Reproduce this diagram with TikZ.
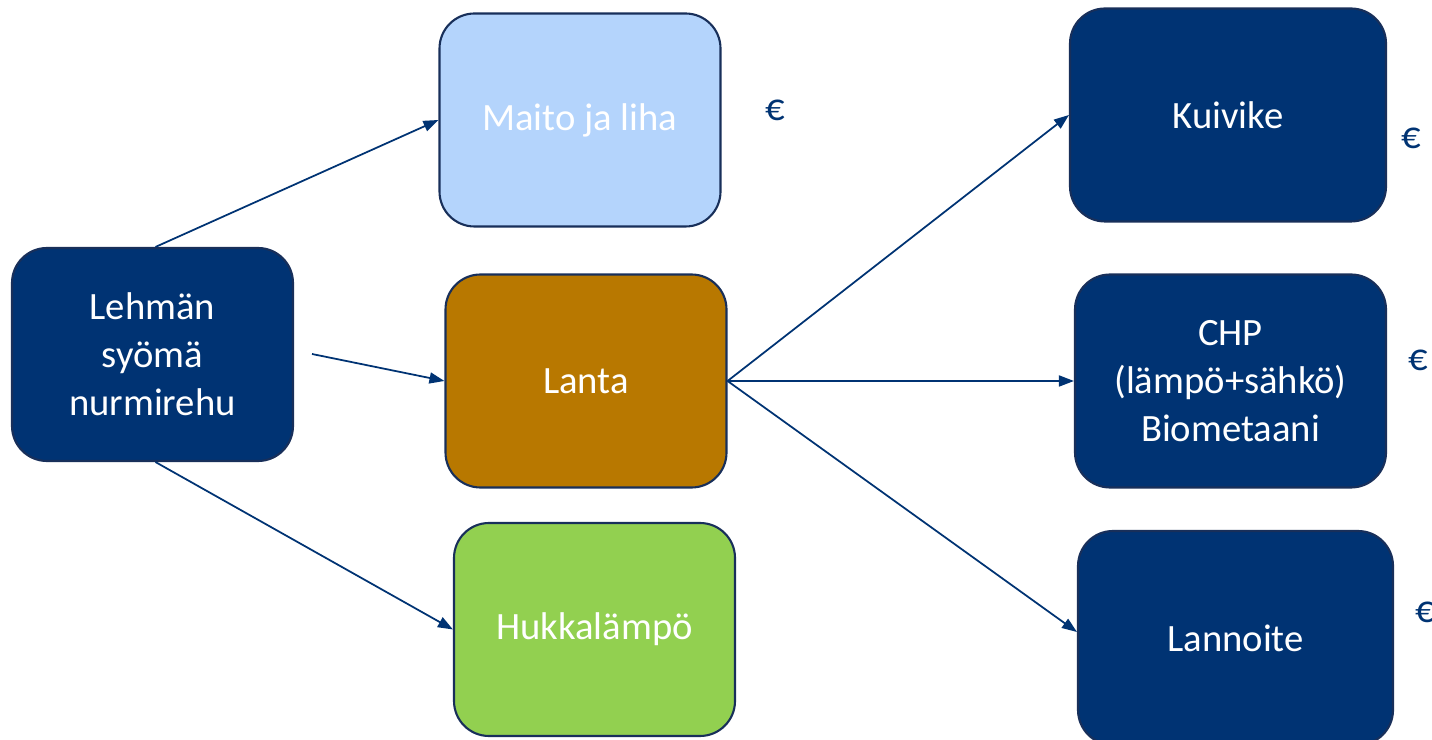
\documentclass[tikz,border=0pt]{standalone}
\usepackage{fontspec}
\setmainfont{Carlito}
\usetikzlibrary{arrows.meta}

\definecolor{navy}{RGB}{0,51,115}
\definecolor{navyline}{RGB}{24,47,90}
\definecolor{sky}{RGB}{180,212,252}
\definecolor{manure}{RGB}{184,120,0}
\definecolor{grass}{RGB}{146,208,80}

\tikzset{
    box/.style={draw=navyline, line width=0.6pt, rounded corners=0.35cm,
        minimum width=2.81cm, minimum height=2.13cm, inner sep=0pt,
        align=center, text=white, font=\fontsize{11}{13.6}\selectfont},
    flow/.style={draw=navy, line width=0.5pt,
        -{Triangle[length=1.5mm,width=1.1mm]}},
    euro/.style={text=navy, font=\fontsize{11}{13.6}\selectfont}
}

\begin{document}
\begin{tikzpicture}

    % Fix the size of the page
    \useasboundingbox (0,0) rectangle (14.32,7.39);

    % Starting box on the left
    \node[box, fill=navy] (lehma) at (1.525, 3.845) {Lehmän\\syömä\\nurmirehu};

    % Middle column
    \node[box, fill=sky] (maito) at (5.80, 6.19) {Maito ja liha};
    \node[box, fill=manure] (lanta) at (5.86, 3.58) {Lanta};
    \node[box, fill=grass] (hukka) at (5.945, 1.095) {Hukkalämpö};

    % Right column
    \node[box, fill=navy, minimum width=3.16cm] (kuivike) at (12.28, 6.24) {Kuivike};
    \node[box, fill=navy, minimum width=3.11cm] (chp) at (12.305, 3.58) {CHP\\(lämpö+sähkö)\\Biometaani};
    \node[box, fill=navy, minimum width=3.15cm, minimum height=2.14cm] (lannoite) at (12.355, 1.01) {Lannoite};

    % Euro signs beside the boxes
    \node[euro] (e1) at (7.75, 6.29) {€};
    \node[euro] (e2) at (14.11, 6.01) {€};
    \node[euro] (e3) at (14.18, 3.79) {€};
    \node[euro] (e4) at (14.25, 1.27) {€};

    % Free start of the arrow to Lanta
    \coordinate (lstart) at (3.12, 3.85);

    % Arrows from the cow
    \draw[flow] ([xshift=0.03cm]lehma.north) -- (maito.west);
    \draw[flow] (lstart) -- (lanta.west);
    \draw[flow] ([xshift=0.03cm]lehma.south) -- (hukka.west);

    % Arrows from the manure
    \draw[flow] (lanta.east) -- (kuivike.west);
    \draw[flow] (lanta.east) -- (chp.west);
    \draw[flow] (lanta.east) -- ([yshift=0.06cm]lannoite.west);

\end{tikzpicture}
\end{document}
